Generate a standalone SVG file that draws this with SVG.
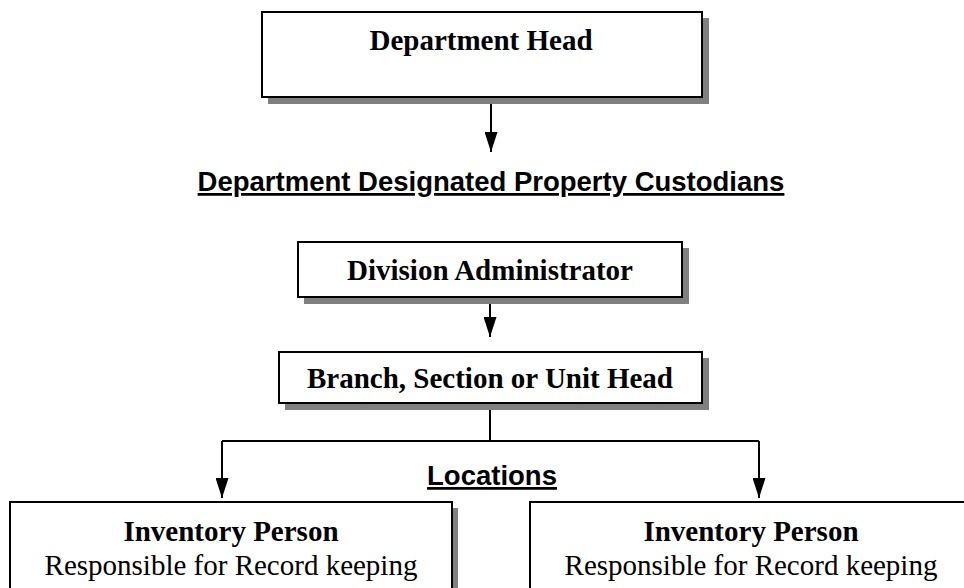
<svg xmlns="http://www.w3.org/2000/svg" width="964" height="588" viewBox="0 0 964 588">
<defs>
<style>
.box{fill:#fff;stroke:#000;stroke-width:2}
.sh{fill:#808080}
.tb{font-family:"Liberation Serif","Times New Roman",serif;font-weight:bold;font-size:29px;fill:#000}
.tr{font-family:"Liberation Serif","Times New Roman",serif;font-size:29px;fill:#000}
.ta{font-family:"Liberation Sans",Arial,sans-serif;font-weight:bold;font-size:27.5px;fill:#000;text-decoration:underline}
.ln{fill:none;stroke:#000;stroke-width:2}
</style>
<marker id="ah" viewBox="0 0 20 13" refX="20" refY="6.5" markerWidth="20" markerHeight="13" markerUnits="userSpaceOnUse" orient="auto">
<path d="M0,0 L20,6.5 L0,13 Z" fill="#000"/>
</marker>
</defs>
<rect width="964" height="588" fill="#fff"/>
<g id="dept-head">
<rect class="sh" x="268" y="18" width="441" height="86"/>
<rect class="box" x="262" y="12" width="440" height="85"/>
<text class="tb" x="481" y="50" text-anchor="middle" font-size="28">Department Head</text>
</g>
<g id="custodians-label">
<text class="ta" x="491" y="191" text-anchor="middle">Department Designated Property Custodians</text>
</g>
<g id="division-admin">
<rect class="sh" x="304" y="248" width="385" height="56"/>
<rect class="box" x="298" y="242" width="384" height="55"/>
<text class="tb" x="490" y="280" text-anchor="middle">Division Administrator</text>
</g>
<g id="branch-head">
<rect class="sh" x="285" y="358" width="424" height="52"/>
<rect class="box" x="279" y="352" width="423" height="51"/>
<text class="tb" x="490" y="388" text-anchor="middle">Branch, Section or Unit Head</text>
</g>
<g id="locations-label">
<text class="ta" x="492" y="485" text-anchor="middle">Locations</text>
</g>
<g id="inventory-left">
<rect class="sh" x="16" y="508" width="442" height="100"/>
<rect class="box" x="10" y="502" width="442" height="100"/>
<text class="tb" x="231" y="541" text-anchor="middle">Inventory Person</text>
<text class="tr" x="231" y="575" text-anchor="middle">Responsible for Record keeping</text>
</g>
<g id="inventory-right">
<rect class="sh" x="536" y="508" width="442" height="100"/>
<rect class="box" x="530" y="502" width="442" height="100"/>
<text class="tb" x="751" y="541" text-anchor="middle">Inventory Person</text>
<text class="tr" x="751" y="575" text-anchor="middle">Responsible for Record keeping</text>
</g>
<g id="connectors">
<path class="ln" d="M491,104 V152" marker-end="url(#ah)"/>
<path class="ln" d="M490,304 V337" marker-end="url(#ah)"/>
<path class="ln" d="M490,410 V441 M222,441 H759"/>
<path class="ln" d="M222,441 V498" marker-end="url(#ah)"/>
<path class="ln" d="M759,441 V498" marker-end="url(#ah)"/>
</g>
</svg>
